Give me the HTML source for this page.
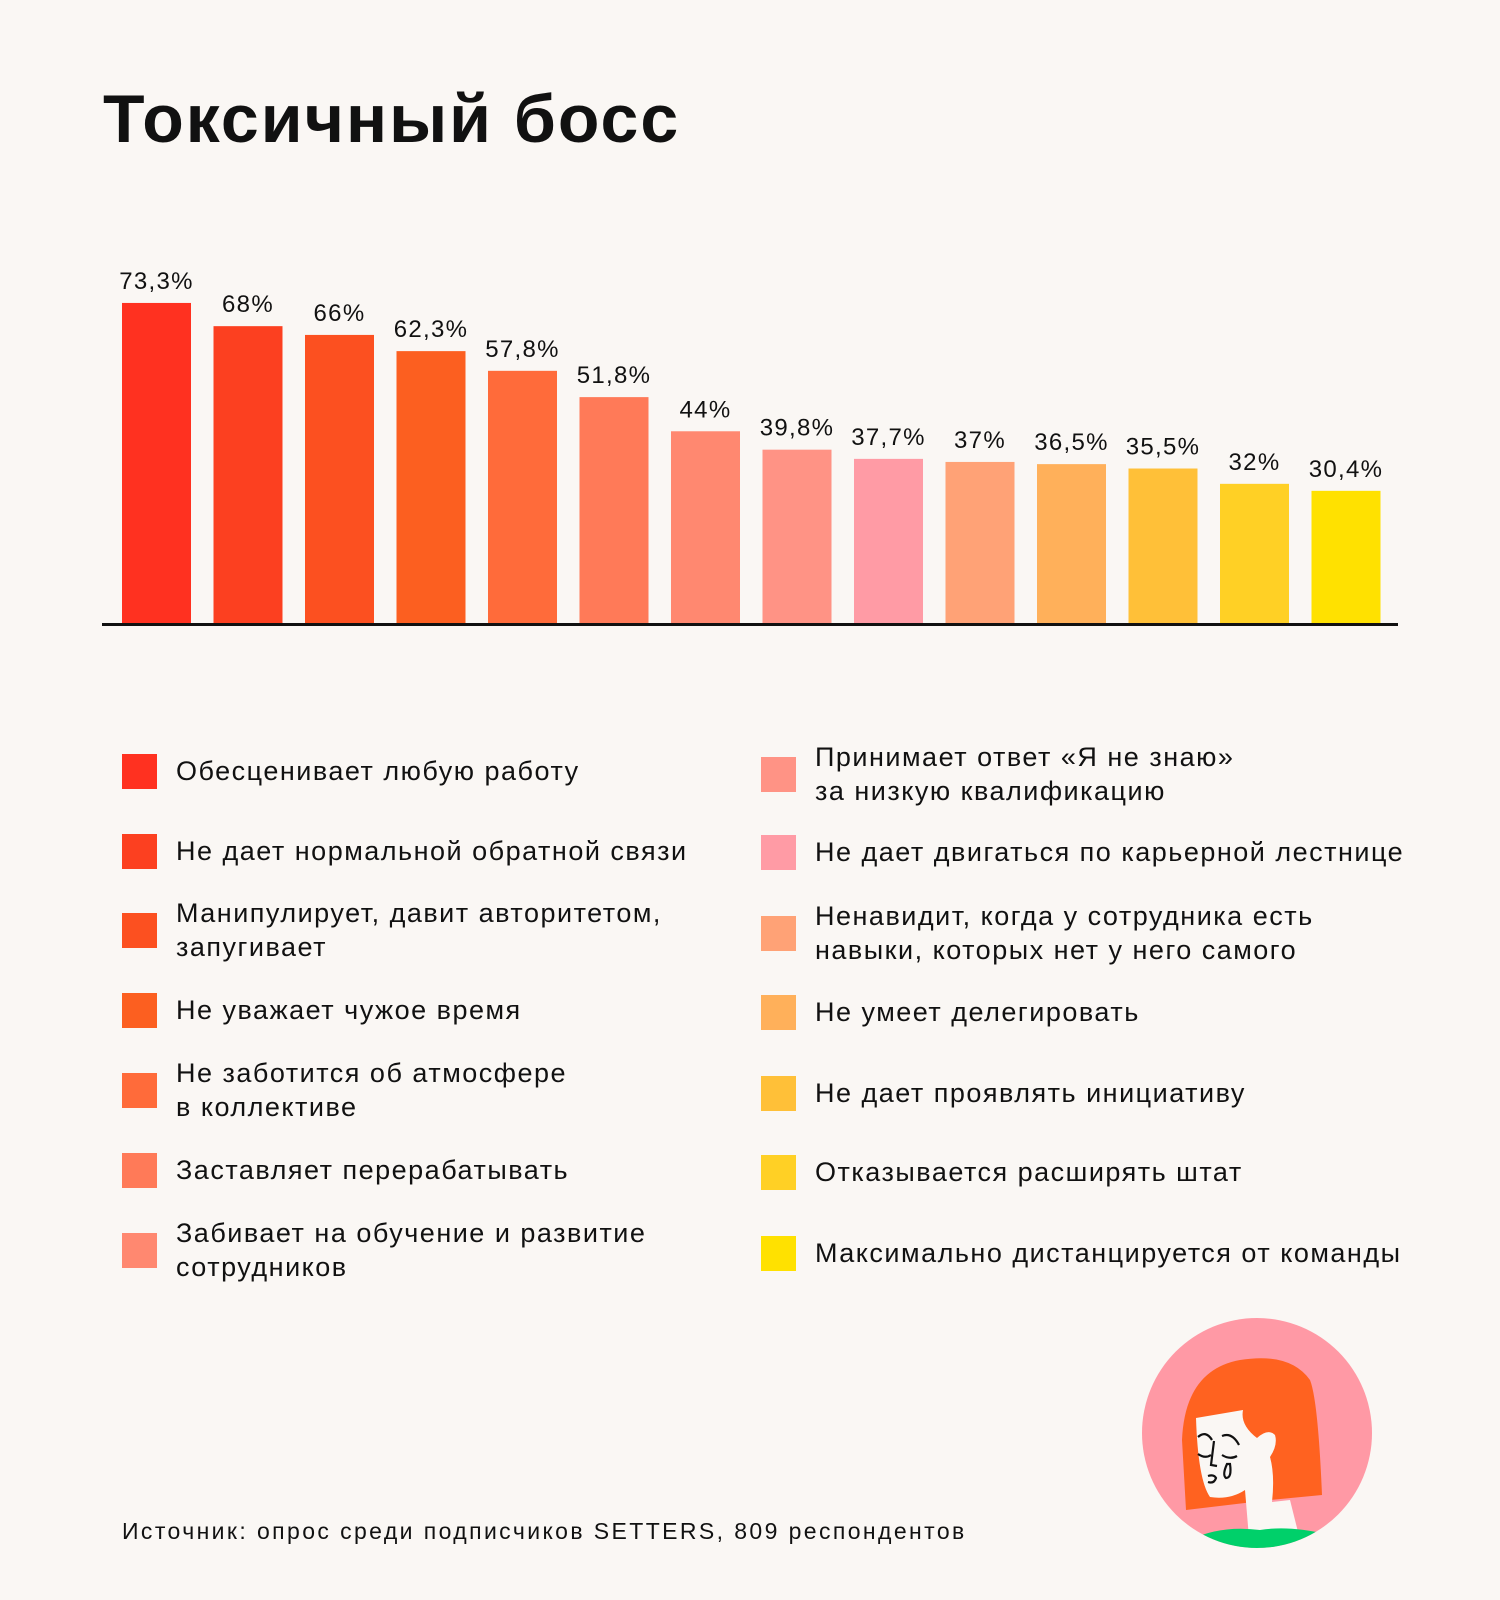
<!DOCTYPE html>
<html><head><meta charset="utf-8"><style>
html,body{margin:0;padding:0;background:#FAF7F4;}
body{width:1500px;height:1600px;position:relative;overflow:hidden;font-family:"Liberation Sans","Noto Sans CJK SC",sans-serif;color:#111;}
.title{position:absolute;left:103px;top:80px;font-size:68px;font-weight:bold;letter-spacing:2px;}
.leg{position:absolute;display:flex;align-items:center;}
.sw{width:35px;height:35px;flex:none;}
.lt{font-size:27px;line-height:34px;margin-left:19px;white-space:nowrap;letter-spacing:1.5px;}
.src{position:absolute;left:122px;top:1518px;font-size:23px;letter-spacing:2.4px;}
</style></head><body>
<div class="title">Токсичный босс</div>
<svg id="chart" width="1500" height="640" style="position:absolute;left:0;top:0"></svg>
<div id="legend"></div>
<div class="src">Источник: опрос среди подписчиков SETTERS, 809 респондентов</div>
<svg width="240" height="240" style="position:absolute;left:1137px;top:1313px" viewBox="1137 1313 240 240">
<defs><clipPath id="cc"><circle cx="1257" cy="1433" r="115"/></clipPath></defs>
<circle cx="1257" cy="1433" r="115" fill="#FF99A5"/>
<g clip-path="url(#cc)">
<path d="M1186 1510 L1182 1440 Q1185 1370 1240 1360 Q1290 1352 1310 1380 Q1318 1400 1322 1495 L1270 1500 Z" fill="#FF6220"/>
<path d="M1196 1418 L1243 1410 Q1240 1425 1257 1438 Q1268 1428 1275 1435 Q1278 1445 1270 1457 Q1275 1475 1272 1502 L1290 1500 L1300 1540 L1250 1550 L1245 1490 Q1230 1500 1210 1497 Q1198 1480 1196 1418 Z" fill="#FAF7F4"/>
<path d="M1190 1540 Q1220 1525 1260 1530 Q1290 1525 1330 1535 L1330 1570 L1190 1570 Z" fill="#00D06A"/>
<g stroke="#111" stroke-width="2.2" fill="none">
<path d="M1198 1437 Q1206 1430 1212 1440"/><path d="M1222 1436 Q1232 1432 1239 1445"/>
<path d="M1198 1454 Q1205 1459 1211 1455"/><path d="M1222 1455 Q1230 1460 1237 1456"/>
<path d="M1214 1441 L1211 1465 L1217 1466"/>
<path d="M1227 1464 Q1222 1475 1226 1478 Q1232 1478 1230 1464 Z"/>
<path d="M1208 1476 Q1214 1474 1216 1478 Q1214 1484 1208 1482"/>
</g></g></svg>
<script>
const categories=["Обесценивает любую работу","Не дает нормальной обратной связи","Манипулирует, давит авторитетом, запугивает","Не уважает чужое время","Не заботится об атмосфере в коллективе","Заставляет перерабатывать","Забивает на обучение и развитие сотрудников","Принимает ответ «Я не знаю» за низкую квалификацию","Не дает двигаться по карьерной лестнице","Ненавидит, когда у сотрудника есть навыки, которых нет у него самого","Не умеет делегировать","Не дает проявлять инициативу","Отказывается расширять штат","Максимально дистанцируется от команды"];
const values=[73.3,68,66,62.3,57.8,51.8,44,39.8,37.7,37,36.5,35.5,32,30.4];
const valueLabels=["73,3%","68%","66%","62,3%","57,8%","51,8%","44%","39,8%","37,7%","37%","36,5%","35,5%","32%","30,4%"];
const colors=["#FF3120","#FC4020","#FC5020","#FC5F20","#FF6B3A","#FF7A58","#FF8870","#FF9385","#FF9BA5","#FFA276","#FFB05A","#FFC038","#FFD025","#FFE100"];
const legendLines=[["Обесценивает любую работу"],["Не дает нормальной обратной связи"],["Манипулирует, давит авторитетом,","запугивает"],["Не уважает чужое время"],["Не заботится об атмосфере","в коллективе"],["Заставляет перерабатывать"],["Забивает на обучение и развитие","сотрудников"],["Принимает ответ «Я не знаю»","за низкую квалификацию"],["Не дает двигаться по карьерной лестнице"],["Ненавидит, когда у сотрудника есть","навыки, которых нет у него самого"],["Не умеет делегировать"],["Не дает проявлять инициативу"],["Отказывается расширять штат"],["Максимально дистанцируется от команды"]];
const NS="http://www.w3.org/2000/svg";
const svg=document.getElementById('chart');
const baseY=624, pxPer=4.38, x0=122, step=91.5, bw=69;
const xScale=i=>x0+i*step;
const yScale=v=>baseY-v*pxPer;
values.forEach((v,i)=>{
  const r=document.createElementNS(NS,'rect');
  r.setAttribute('x',xScale(i));r.setAttribute('y',yScale(v));
  r.setAttribute('width',bw);r.setAttribute('height',baseY-yScale(v));
  r.setAttribute('fill',colors[i]);
  
  
  svg.appendChild(r);
  const t=document.createElementNS(NS,'text');
  t.setAttribute('x',xScale(i)+bw/2);t.setAttribute('y',yScale(v)-14);
  t.setAttribute('text-anchor','middle');t.setAttribute('font-size','24');
  t.setAttribute('letter-spacing','1.3');
  t.setAttribute('font-family','Liberation Sans, sans-serif');t.setAttribute('fill','#111');
  t.textContent=valueLabels[i];
  
  
  svg.appendChild(t);
});
const ax=document.createElementNS(NS,'rect');
ax.setAttribute('x',102);ax.setAttribute('y',baseY-1);ax.setAttribute('width',1296);ax.setAttribute('height',3);ax.setAttribute('fill','#111');


svg.appendChild(ax);
const leftY=[771,851,930,1010,1090,1170,1250], rightY=[774,852,933,1012,1093,1172,1253];
const lg=document.getElementById('legend');
categories.forEach((c,i)=>{
  const col=i<7?0:1, k=i%7;
  const cy=col?rightY[k]:leftY[k];
  const d=document.createElement('div');d.className='leg';
  d.style.left=(col?761:122)+'px';d.style.top=(cy-34)+'px';d.style.height='68px';
  
  
  const s=document.createElement('div');s.className='sw';s.style.background=colors[i];
  
  
  const t=document.createElement('div');t.className='lt';
  t.innerHTML=legendLines[i].join('<br>');
  
  
  d.appendChild(s);d.appendChild(t);lg.appendChild(d);
});
</script>
</body></html>
